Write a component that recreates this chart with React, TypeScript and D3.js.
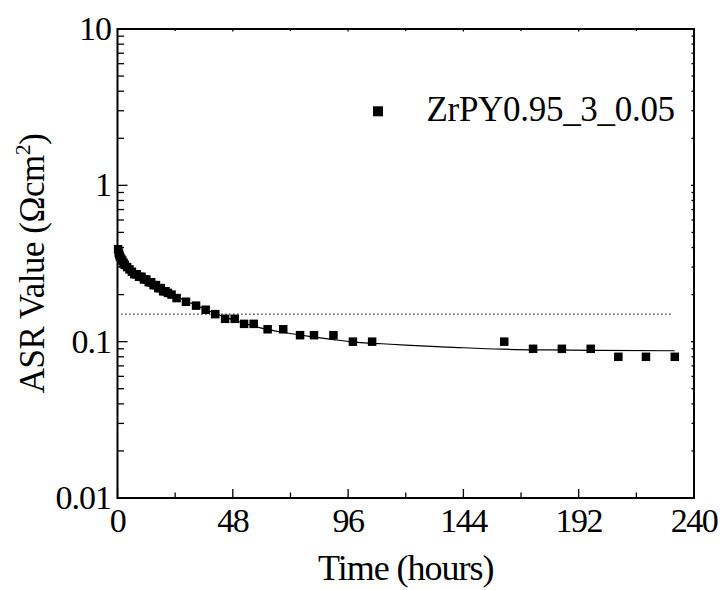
import React from "react";
import * as d3 from "d3";

const hours = [0.25, 0.5, 0.75, 1, 1.5, 2, 2.5, 3, 4, 5, 6, 7, 8, 9, 10, 11, 12, 13, 14, 15, 16, 17, 18, 19, 20, 21, 22.5, 24.6, 28.5, 32.7, 36.7, 40.7, 44.8, 48.8, 52.7, 56.7, 62.5, 69, 76, 81.8, 89.9, 98, 106, 161, 173, 185, 197, 208.5, 220, 232];
const asr = [0.39, 0.37, 0.36, 0.35, 0.34, 0.33, 0.32, 0.31, 0.30, 0.29, 0.28, 0.27, 0.27, 0.26, 0.26, 0.25, 0.25, 0.24, 0.24, 0.23, 0.23, 0.22, 0.22, 0.21, 0.21, 0.205, 0.2, 0.19, 0.18, 0.17, 0.16, 0.15, 0.14, 0.14, 0.13, 0.13, 0.12, 0.12, 0.11, 0.11, 0.11, 0.1, 0.1, 0.1, 0.09, 0.09, 0.09, 0.08, 0.08, 0.08];

const fitHours = [0, 1, 2, 4, 6, 8, 10, 14, 18, 22, 26, 30, 35, 40, 45, 50, 55, 60, 70, 80, 90, 100, 110, 120, 140, 160, 180, 200, 232];
const fitAsr = [0.37, 0.34, 0.32, 0.30, 0.28, 0.27, 0.26, 0.24, 0.22, 0.205, 0.19, 0.178, 0.165, 0.153, 0.143, 0.135, 0.128, 0.122, 0.114, 0.108, 0.103, 0.099, 0.097, 0.095, 0.092, 0.0895, 0.0885, 0.088, 0.0875];

const refValue = 0.15;
const refRange = [1.5, 231];

const xMajor = [0, 48, 96, 144, 192, 240];
const xMinor = [24, 72, 120, 168, 216];
const yMajor = [0.01, 0.1, 1, 10];
const yMajorLabels = ["0.01", "0.1", "1", "10"];

const seriesName = "ZrPY0.95_3_0.05";

export default function App() {
  const left = 117.5, right = 694, top = 29, bottom = 498;
  const x = d3.scaleLinear().domain([0, 240]).range([left, right]);
  const y = d3.scaleLog().domain([0.01, 10]).range([bottom, top]);

  const yMinor: number[] = [];
  [0.01, 0.1, 1].forEach((d) => {
    for (let k = 2; k <= 9; k++) yMinor.push(d * k);
  });

  const fitLine = d3
    .line<number>()
    .x((_, i) => x(fitHours[i]))
    .y((d) => y(d))
    .curve(d3.curveMonotoneX)(fitAsr) as string;

  const font = "'Liberation Serif', 'Times New Roman', serif";
  const ms = 8.5;

  return (
    <svg width={722} height={590} style={{ position: "absolute", left: 0, top: 0, background: "#fff" }} fontFamily={font}>
      <rect x={0} y={0} width={722} height={590} fill="#fff" />
      <line x1={x(refRange[0])} x2={x(refRange[1])} y1={y(refValue)} y2={y(refValue)} stroke="#000" strokeWidth={1} strokeDasharray="1.5,2.5" />
      <path d={fitLine} fill="none" stroke="#000" strokeWidth={1.2} />
      {hours.map((h, i) => (
        <rect key={i} x={x(h) - ms / 2} y={y(asr[i]) - ms / 2} width={ms} height={ms} fill="#000" />
      ))}
      <rect x={left} y={top} width={right - left} height={bottom - top} fill="none" stroke="#000" strokeWidth={2} />
      {xMajor.map((t) => (
        <g key={"xm" + t}>
          <line x1={x(t)} x2={x(t)} y1={bottom} y2={bottom - 9} stroke="#000" strokeWidth={1.3} />
          <line x1={x(t)} x2={x(t)} y1={top} y2={top + 2.5} stroke="#000" strokeWidth={1.3} />
          <text x={x(t)} y={532} textAnchor="middle" fontSize={34} letterSpacing={-1.5}>
            {t}
          </text>
        </g>
      ))}
      {xMinor.map((t) => (
        <g key={"xn" + t}>
          <line x1={x(t)} x2={x(t)} y1={bottom} y2={bottom - 5.5} stroke="#000" strokeWidth={1.3} />
          <line x1={x(t)} x2={x(t)} y1={top} y2={top + 2} stroke="#000" strokeWidth={1.3} />
        </g>
      ))}
      {yMajor.map((t, i) => (
        <g key={"ym" + t}>
          <line x1={left} x2={left + 10} y1={y(t)} y2={y(t)} stroke="#000" strokeWidth={1.3} />
          <line x1={right} x2={right - 3} y1={y(t)} y2={y(t)} stroke="#000" strokeWidth={1.3} />
          <text x={111} y={y(t) + 11} textAnchor="end" fontSize={34} letterSpacing={-1}>
            {yMajorLabels[i]}
          </text>
        </g>
      ))}
      {yMinor.map((t) => (
        <g key={"yn" + t}>
          <line x1={left} x2={left + 6.5} y1={y(t)} y2={y(t)} stroke="#000" strokeWidth={1.3} />
          <line x1={right} x2={right - 2.5} y1={y(t)} y2={y(t)} stroke="#000" strokeWidth={1.3} />
        </g>
      ))}
      <text x={(left + right) / 2} y={580} textAnchor="middle" fontSize={36} letterSpacing={-1}>
        Time (hours)
      </text>
      <text transform={`translate(44, ${(top + bottom) / 2}) rotate(-90)`} textAnchor="middle" fontSize={35} letterSpacing={-0.5}>
        ASR Value (Ωcm<tspan fontSize={22} dy={-14}>2</tspan><tspan dy={14}>)</tspan>
      </text>
      <rect x={378 - 5} y={111.3 - 5} width={10} height={10} fill="#000" />
      <text x={426.5} y={120.7} fontSize={35} letterSpacing={-0.3}>
        {seriesName}
      </text>
    </svg>
  );
}
